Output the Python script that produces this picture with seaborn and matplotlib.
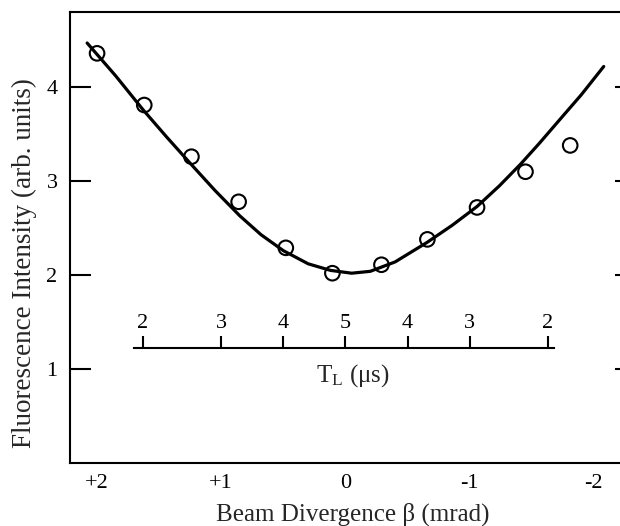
import matplotlib
matplotlib.use("Agg")
import matplotlib.pyplot as plt
import seaborn as sns
import pandas as pd

# Measured fluorescence vs. beam divergence
beta_meas = [2.00, 1.62, 1.24, 0.86, 0.48, 0.105, -0.29, -0.66, -1.06, -1.45, -1.81]
intensity_meas = [4.36, 3.81, 3.26, 2.78, 2.29, 2.02, 2.11, 2.38, 2.72, 3.10, 3.38]

# Fitted curve
beta_fit = [2.08, 1.85, 1.63, 1.44, 1.25, 1.05, 0.85, 0.68, 0.50, 0.30, 0.12,
            -0.05, -0.20, -0.40, -0.66, -0.86, -1.06, -1.24, -1.41, -1.56,
            -1.71, -1.90, -2.08]
intensity_fit = [4.47, 4.12, 3.76, 3.47, 3.19, 2.90, 2.63, 2.43, 2.26, 2.12, 2.05,
                 2.02, 2.04, 2.14, 2.35, 2.53, 2.73, 2.95, 3.18, 3.40,
                 3.63, 3.92, 4.22]

# Axis ticks
beta_ticks = [2, 1, 0, -1, -2]
beta_labels = ["+2", "+1", "0", "-1", "-2"]
y_ticks = [1, 2, 3, 4]

# Secondary scale: laser interaction time T_L at given divergence
tl_beta = [1.63, 1.0, 0.5, 0.0, -0.5, -1.0, -1.63]
tl_labels = ["2", "3", "4", "5", "4", "3", "2"]

sns.set_theme(style="white")
plt.rcParams["font.family"] = ["Liberation Serif", "DejaVu Serif"]
plt.rcParams["mathtext.fontset"] = "custom"
plt.rcParams["mathtext.rm"] = "Liberation Serif"
plt.rcParams["mathtext.it"] = "Liberation Serif:italic"

fig = plt.figure(figsize=(6.2, 5.26), dpi=100)
ax = fig.add_axes([70 / 620, 63 / 526, 566 / 620, 451 / 526])

meas = pd.DataFrame({"beta": beta_meas, "I": intensity_meas})
fit = pd.DataFrame({"beta": beta_fit, "I": intensity_fit})

sns.lineplot(data=fit, x="beta", y="I", ax=ax, color="black", lw=2.3,
             sort=False, estimator=None)
sns.scatterplot(data=meas, x="beta", y="I", ax=ax, marker="o", s=110,
                facecolor="none", edgecolor="black", linewidth=1.5, zorder=3)

x_left, x_right = 2.218, -2.34
ax.set_xlim(x_left, x_right)
ax.set_ylim(0, 4.80)

ax.set_xticks(beta_ticks)
ax.set_xticklabels(beta_labels)
ax.set_yticks(y_ticks)
ax.tick_params(axis="x", direction="in", length=11, width=1.5, labelsize=16,
               pad=8, colors="black")
ax.tick_params(axis="y", direction="in", length=15, width=1.5, labelsize=16,
               pad=9, left=True, right=True, colors="black")
for side in ["left", "bottom", "top", "right"]:
    ax.spines[side].set_linewidth(1.5)
    ax.spines[side].set_color("black")

ax.set_xlabel("Beam Divergence β (mrad)", fontsize=18, labelpad=7)
ax.set_ylabel("Fluorescence Intensity (arb. units)", fontsize=19.5)
ax.yaxis.set_label_coords(-0.058, 0.443)

# Inset scale for T_L drawn inside the main axes
x0_b, x1_b = 1.70, -1.68
span = x_left - x_right
fx0 = (x_left - x0_b) / span
fw = (x0_b - x1_b) / span
y0, h = 1.223 / 4.80, 0.128 / 4.80
tax = ax.inset_axes([fx0, y0, fw, h])
tax.set_xlim(x0_b, x1_b)
tax.set_ylim(0, 1)
tax.patch.set_alpha(0)
for side in ["left", "top", "right"]:
    tax.spines[side].set_visible(False)
tax.spines["bottom"].set_linewidth(1.5)
tax.spines["bottom"].set_color("black")
tax.set_yticks([])
tax.set_xticks(tl_beta)
tax.set_xticklabels(tl_labels)
tax.tick_params(axis="x", direction="in", length=8.6, width=1.5, bottom=True,
                top=False, labelbottom=False, labeltop=True, labelsize=16,
                pad=2, colors="black")
tax.set_xlabel("T$_{\\mathrm{L}}$ (μs)", fontsize=18)
tax.xaxis.set_label_coords(0.52, -2.3)
tax.xaxis.label.set_va("center")

fig.savefig("out.png", dpi=100, facecolor="white")
